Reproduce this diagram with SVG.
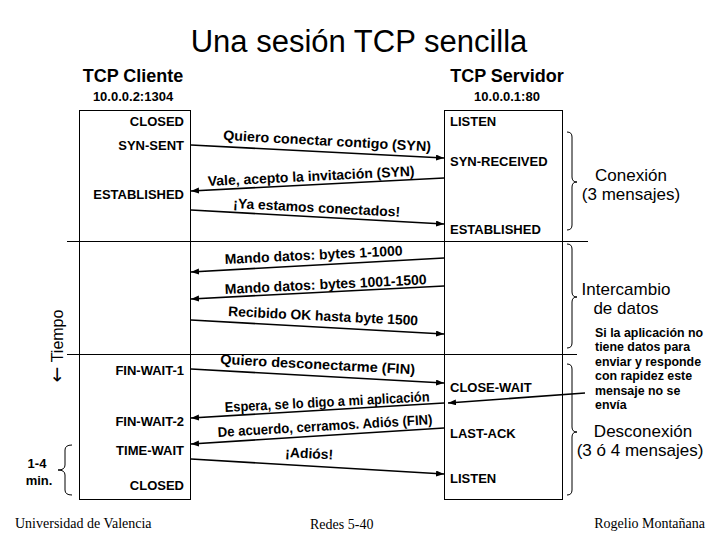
<svg xmlns="http://www.w3.org/2000/svg" width="720" height="540" viewBox="0 0 720 540">
<style>
text{font-family:"Liberation Sans",Arial,sans-serif;fill:#000}
.title{font-size:31px}
.hd{font-size:18px;font-weight:bold}
.ip{font-size:13px;font-weight:bold}
.st{font-size:13px;font-weight:bold}
.lbl{font-size:14px;font-weight:bold}
.big{font-size:17px}
.note{font-size:12.4px;font-weight:bold}
.ft{font-family:"Liberation Serif","Times New Roman",serif;font-size:14px}
.box{fill:none;stroke:#000;stroke-width:1}
.rule{stroke:#000;stroke-width:1}
.msg{stroke:#000;stroke-width:1.6;fill:none;marker-end:url(#ah)}
.brace{fill:none;stroke:#000;stroke-width:1}
</style>
<defs>
<marker id="ah" markerUnits="userSpaceOnUse" markerWidth="9" markerHeight="7" refX="8" refY="3" orient="auto">
<path d="M0,0 L8,3 L0,6 z" fill="#000"/>
</marker>
</defs>
<rect width="720" height="540" fill="#fff"/>
<text class="title" x="359" y="52" text-anchor="middle">Una sesión TCP sencilla</text>

<g id="client">
<text class="hd" x="133" y="82" text-anchor="middle">TCP Cliente</text>
<text class="ip" x="133" y="101" text-anchor="middle">10.0.0.2:1304</text>
<rect class="box" x="79.5" y="110.5" width="111" height="389"/>
<g text-anchor="end">
<text class="st" x="184" y="126">CLOSED</text>
<text class="st" x="184" y="150">SYN-SENT</text>
<text class="st" x="184" y="199">ESTABLISHED</text>
<text class="st" x="184" y="375">FIN-WAIT-1</text>
<text class="st" x="184" y="426">FIN-WAIT-2</text>
<text class="st" x="184" y="455">TIME-WAIT</text>
<text class="st" x="184" y="490">CLOSED</text>
</g>
</g>

<g id="server">
<text class="hd" x="507" y="82" text-anchor="middle">TCP Servidor</text>
<text class="ip" x="507" y="101" text-anchor="middle">10.0.0.1:80</text>
<rect class="box" x="444.5" y="110.5" width="118" height="389"/>
<text class="st" x="450" y="126">LISTEN</text>
<text class="st" x="450" y="166">SYN-RECEIVED</text>
<text class="st" x="450" y="234">ESTABLISHED</text>
<text class="st" x="450" y="392">CLOSE-WAIT</text>
<text class="st" x="450" y="438">LAST-ACK</text>
<text class="st" x="450" y="483">LISTEN</text>
</g>

<g id="rules">
<line class="rule" x1="67" y1="241.5" x2="588" y2="241.5"/>
<line class="rule" x1="67" y1="354.5" x2="577" y2="354.5"/>
</g>

<g id="time-axis">
<text font-size="16" transform="translate(63,346) rotate(-90)" text-anchor="middle"><tspan font-family="DejaVu Sans,sans-serif" font-size="19">←</tspan> Tiempo</text>
</g>

<g id="connectors">
<line class="msg" x1="191" y1="145" x2="444" y2="158"/>
<line class="msg" x1="444" y1="178" x2="191" y2="191"/>
<line class="msg" x1="191" y1="210" x2="444" y2="224"/>
<line class="msg" x1="444" y1="258" x2="191" y2="272"/>
<line class="msg" x1="444" y1="286" x2="191" y2="299"/>
<line class="msg" x1="191" y1="320" x2="444" y2="334"/>
<line class="msg" x1="191" y1="369" x2="444" y2="383"/>
<line class="msg" x1="444" y1="403" x2="191" y2="418"/>
<line class="msg" x1="444" y1="428" x2="191" y2="444"/>
<line class="msg" x1="191" y1="459" x2="444" y2="474"/>
<line class="msg" x1="585" y1="393" x2="448" y2="403"/>
</g>

<g id="labels">
<text class="lbl" x="223" y="140" textLength="208" lengthAdjust="spacingAndGlyphs" transform="rotate(3.1 223 140)">Quiero conectar contigo (SYN)</text>
<text class="lbl" x="208" y="186" textLength="207" lengthAdjust="spacingAndGlyphs" transform="rotate(-2.8 208 186)">Vale, acepto la invitación (SYN)</text>
<text class="lbl" x="233" y="208" textLength="167" lengthAdjust="spacingAndGlyphs" transform="rotate(3 233 208)">¡Ya estamos conectados!</text>
<text class="lbl" x="225" y="264" textLength="178" lengthAdjust="spacingAndGlyphs" transform="rotate(-2.8 225 264)">Mando datos: bytes 1-1000</text>
<text class="lbl" x="225" y="294" textLength="202" lengthAdjust="spacingAndGlyphs" transform="rotate(-2.8 225 294)">Mando datos: bytes 1001-1500</text>
<text class="lbl" x="228" y="316" textLength="190" lengthAdjust="spacingAndGlyphs" transform="rotate(2.8 228 316)">Recibido OK hasta byte 1500</text>
<text class="lbl" x="220" y="364" textLength="195" lengthAdjust="spacingAndGlyphs" transform="rotate(3 220 364)">Quiero desconectarme (FIN)</text>
<text class="lbl" x="225" y="412" textLength="205" lengthAdjust="spacingAndGlyphs" transform="rotate(-3 225 412)">Espera, se lo digo a mi aplicación</text>
<text class="lbl" x="218" y="437" textLength="215" lengthAdjust="spacingAndGlyphs" transform="rotate(-3.4 218 437)">De acuerdo, cerramos. Adiós (FIN)</text>
<text class="lbl" x="285" y="457" textLength="48" lengthAdjust="spacingAndGlyphs" transform="rotate(3 285 457)">¡Adiós!</text>
</g>

<g id="brace-connect">
<path class="brace" d="M567,132 Q572,132 572,137 L572,177 Q572,182 577,182 Q572,182 572,187 L572,225 Q572,230 567,230"/>
<text class="big" x="631" y="181" text-anchor="middle">Conexión</text>
<text class="big" x="631" y="200" text-anchor="middle">(3 mensajes)</text>
</g>

<g id="brace-data">
<path class="brace" d="M567,244 Q572,244 572,249 L572,292 Q572,297 577,297 Q572,297 572,302 L572,343 Q572,348 567,348"/>
<text class="big" x="626" y="295" text-anchor="middle">Intercambio</text>
<text class="big" x="626" y="314" text-anchor="middle">de datos</text>
</g>

<g id="note">
<text class="note" x="595" y="337">Si la aplicación no</text>
<text class="note" x="595" y="351">tiene datos para</text>
<text class="note" x="595" y="366">enviar y responde</text>
<text class="note" x="595" y="380">con rapidez este</text>
<text class="note" x="595" y="395">mensaje no se</text>
<text class="note" x="595" y="409">envía</text>
</g>

<g id="brace-disconnect">
<path class="brace" d="M567,364 Q572,364 572,369 L572,427 Q572,432 577,432 Q572,432 572,437 L572,490 Q572,495 567,495"/>
<text class="big" x="643" y="437" text-anchor="middle">Desconexión</text>
<text class="big" x="640" y="456" text-anchor="middle">(3 ó 4 mensajes)</text>
</g>

<g id="brace-timewait">
<path class="brace" d="M72,445 Q65,445 65,450 L65,465 Q65,470 58,470 Q65,470 65,475 L65,490 Q65,495 72,495"/>
<text class="st" x="37" y="468" text-anchor="middle">1-4</text>
<text class="st" x="39" y="485" text-anchor="middle">min.</text>
</g>

<g id="footer">
<text class="ft" x="15" y="528">Universidad de Valencia</text>
<text class="ft" x="310" y="529">Redes 5-40</text>
<text class="ft" x="705" y="528" text-anchor="end">Rogelio Montañana</text>
</g>
</svg>
